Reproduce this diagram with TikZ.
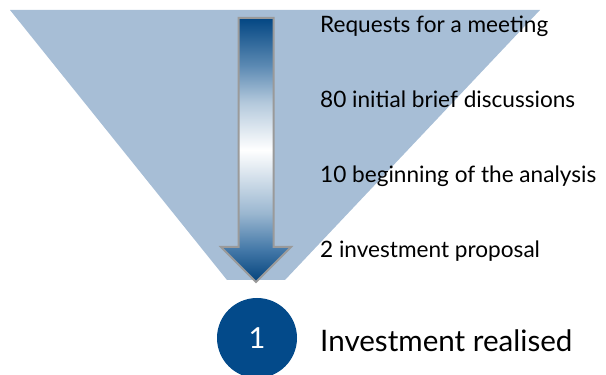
\documentclass[tikz,border=0pt]{standalone}
\usepackage{fontspec}
\setmainfont{Lato}
\usetikzlibrary{positioning}

\definecolor{funnelblue}{HTML}{A7BED6}
\definecolor{deepblue}{HTML}{034A8A}
\definecolor{arrowgray}{HTML}{9A9A9A}

% dark - white - dark fade along the arrow
\pgfdeclareverticalshading{arrowfade}{100bp}{
  color(0bp)=(deepblue!90!black); color(25bp)=(deepblue!90!black);
  color(31bp)=(deepblue!75!white); color(38bp)=(deepblue!40!white);
  color(50bp)=(white); color(59bp)=(deepblue!30!white);
  color(66bp)=(deepblue!65!white); color(75bp)=(deepblue!95!black);
  color(100bp)=(deepblue!95!black)}

\tikzset{
  stage/.style={anchor=base west, inner sep=0pt, font=\fontsize{22.6}{26}\selectfont},
  result/.style={anchor=base west, inner sep=0pt, font=\fontsize{29.6}{34}\selectfont},
}

\begin{document}
\begin{tikzpicture}[x=1pt,y=1pt]
  \useasboundingbox (0,0) rectangle (606,375);

  % funnel
  \fill[funnelblue] (10,365) -- (540,365) -- (285,95) -- (227,95) -- cycle;

  % arrow down the funnel
  \draw[arrowgray, line width=2pt, line join=miter, shading=arrowfade]
    (238.5,357) -- (273.5,357) -- (273.5,128) -- (291,128) -- (256,93)
    -- (221,128) -- (238.5,128) -- cycle;

  % stages
  \node[stage] (requests) at (320,342) {Requests for a meeting};
  \node[stage] (discussions) at (320,267) {80 initial brief discussions};
  \node[stage] (analysis) at (320,192) {10 beginning of the analysis};
  \node[stage] (proposal) at (320,117) {2 investment proposal};

  % outcome
  \node[circle, fill=deepblue, text=white, minimum size=80pt, inner sep=0pt,
        font=\fontsize{29}{32}\selectfont] (count) at (257,37) {1};
  \node[result] (realised) at (320,23) {Investment realised};
\end{tikzpicture}
\end{document}
